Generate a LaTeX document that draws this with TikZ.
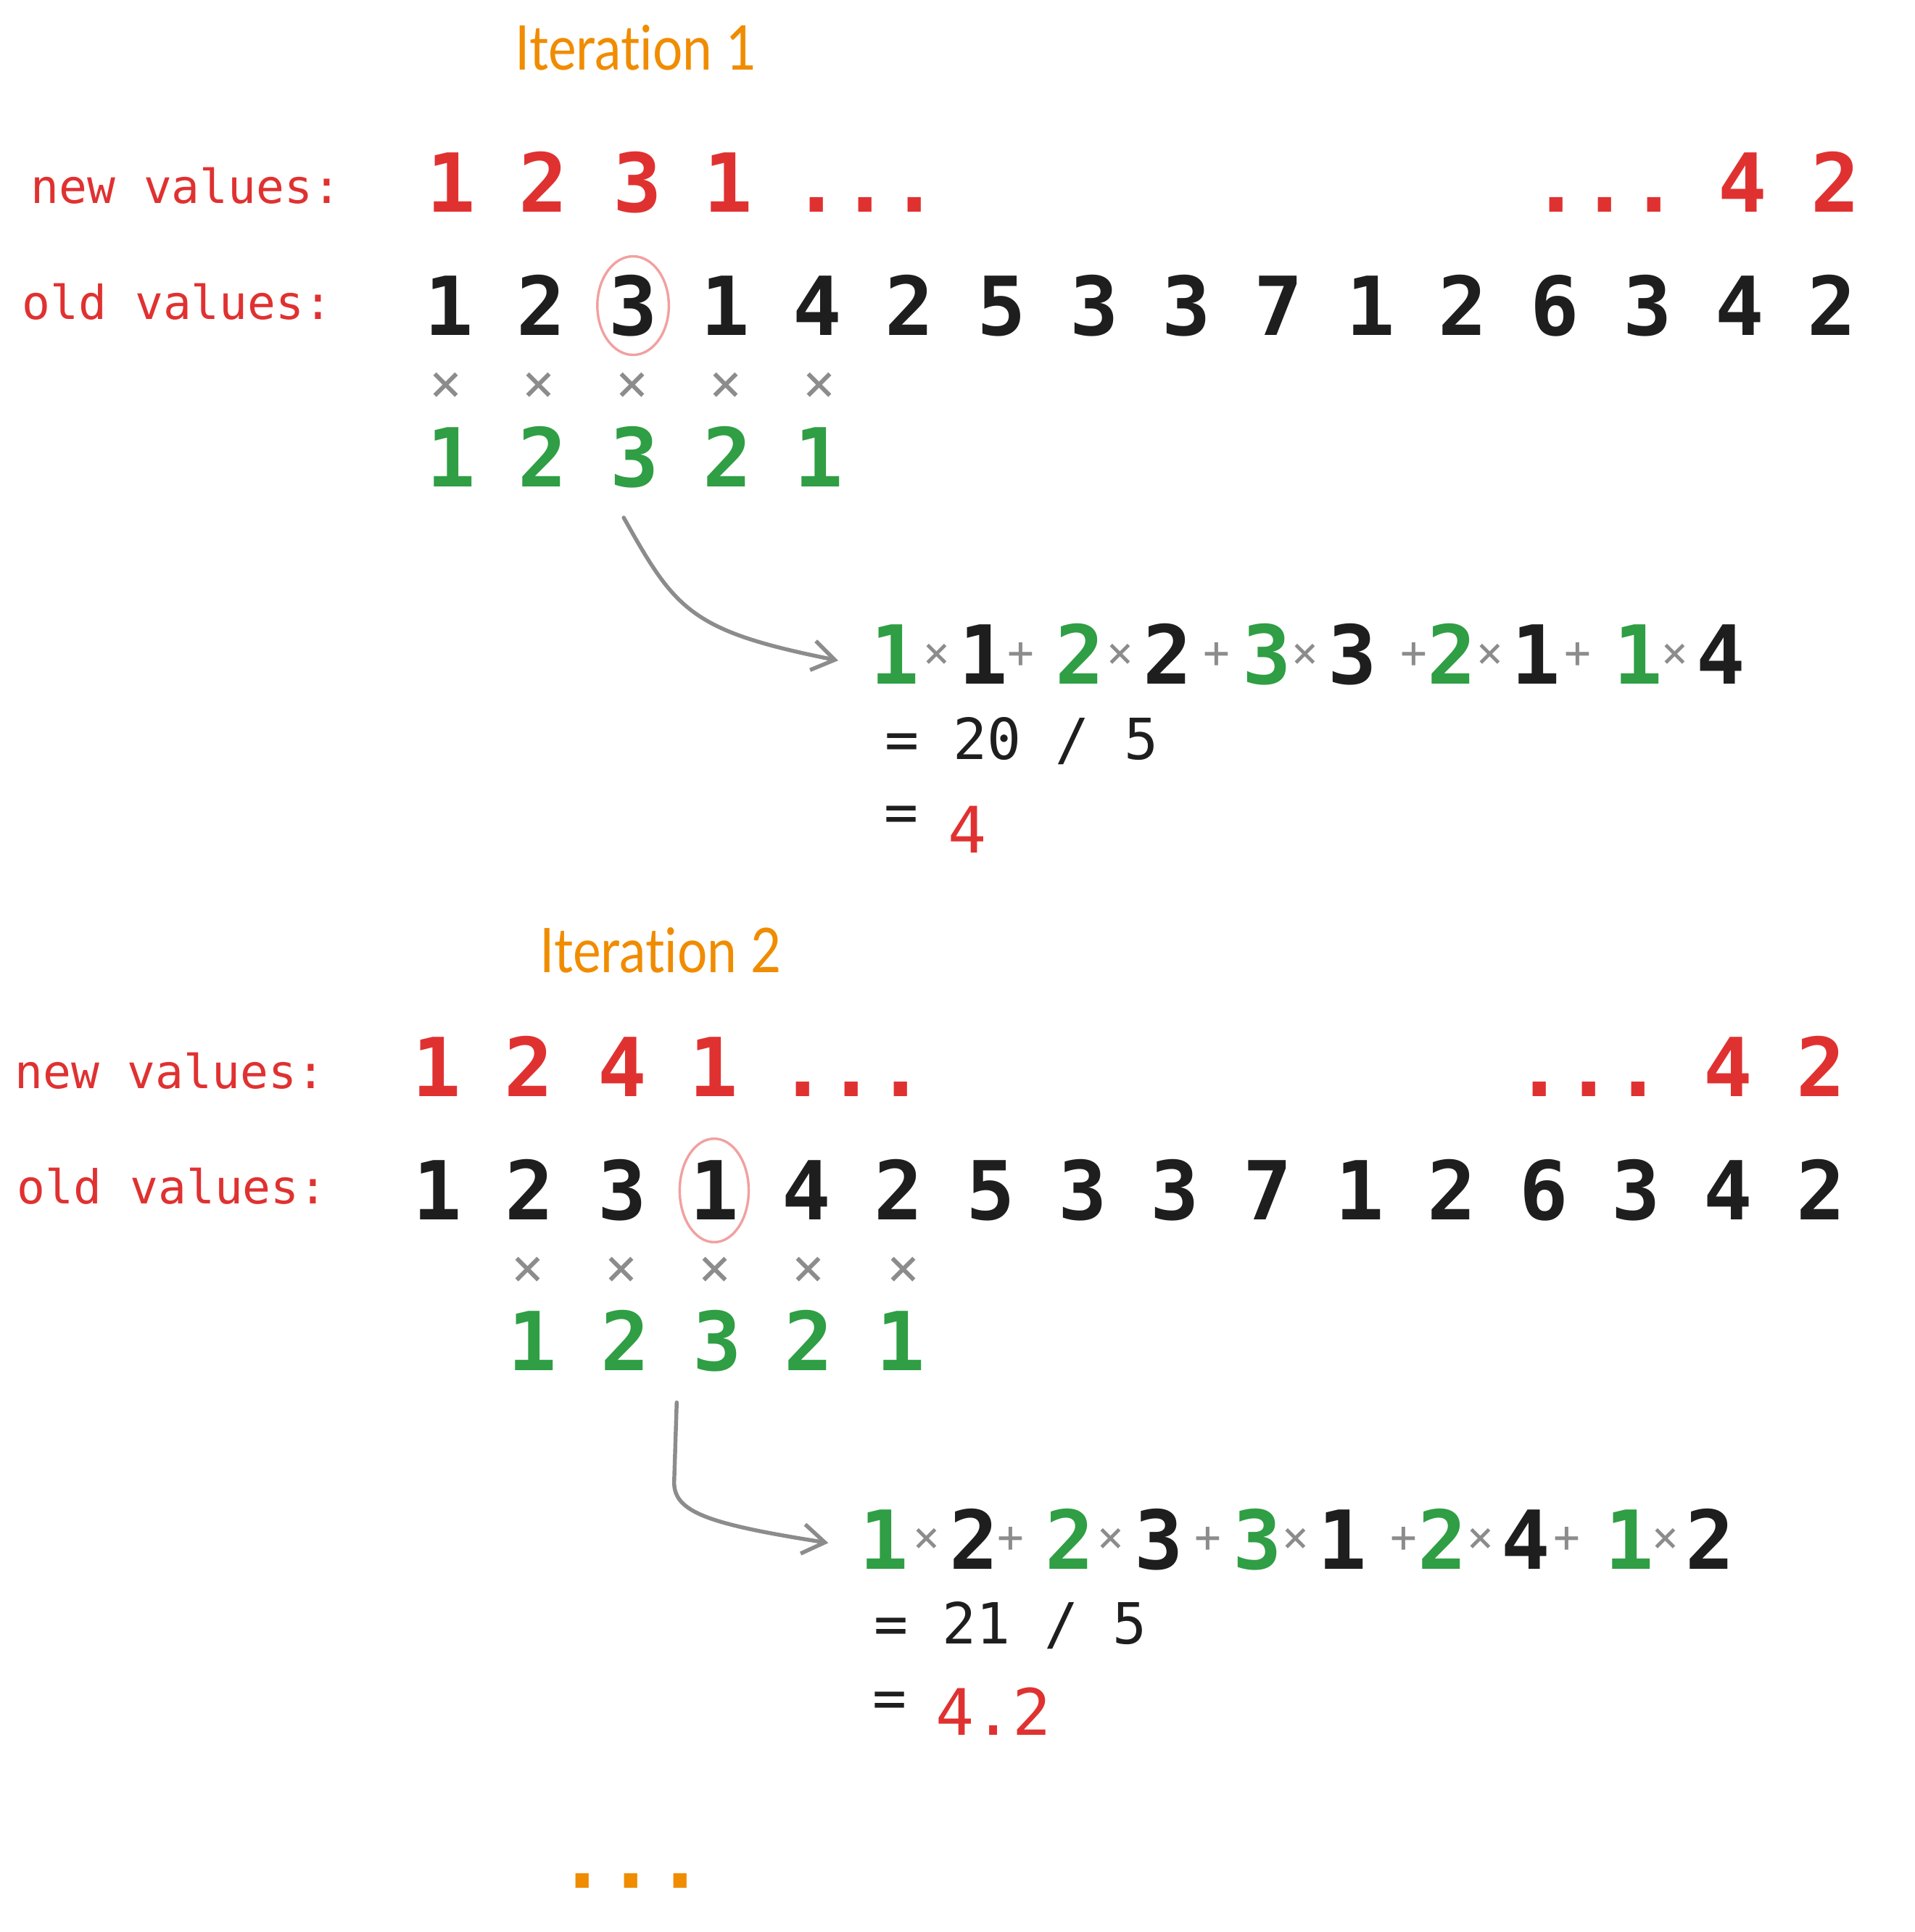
\documentclass[tikz,border=0pt]{standalone}
\usepackage{fontspec}
\setmainfont{DejaVu Sans Mono}
\newfontfamily\monof{DejaVu Sans Mono}
\newfontfamily\monob{DejaVu Sans Mono Bold}
\newfontfamily\headf[Ligatures=NoCommon]{Lato}
\usetikzlibrary{arrows.meta}
\definecolor{cred}{HTML}{E03131}
\definecolor{cgreen}{HTML}{2F9E44}
\definecolor{corange}{HTML}{F08C00}
\definecolor{cblack}{HTML}{1E1E1E}
\definecolor{cgray}{HTML}{8C8C8C}
\definecolor{cpink}{HTML}{F2A0A0}
\newcommand{\headtxt}[1]{\scalebox{0.86}[1]{#1}}
\begin{document}
\begin{tikzpicture}[x=0.5pt,y=-0.5pt,
 every node/.style={inner sep=0pt, outer sep=0pt},
 head/.style={anchor=base west, text=corange, font=\headf\fontsize{25}{25}\selectfont},
 lbl/.style={anchor=base west, text=cred, font=\monof\fontsize{19}{19}\selectfont},
 dig/.style={anchor=base, font=\monob\fontsize{33}{33}\selectfont},
 newd/.style={dig, text=cred},
 oldd/.style={dig, text=cblack},
 kerd/.style={dig, text=cgreen},
 mul/.style={anchor=base, text=cgray, font=\monof\fontsize{22}{22}\selectfont},
 op/.style={anchor=base, text=cgray, font=\monof\fontsize{18}{18}\selectfont},
 res/.style={anchor=base west, text=cblack, font=\monof\fontsize{23}{23}\selectfont},
 eqs/.style={anchor=base, text=cblack, font=\monof\fontsize{23}{23}\selectfont},
 resred/.style={anchor=base, text=cred, font=\monof\fontsize{26}{26}\selectfont},
 sel/.style={draw=cpink, line width=1pt},
 conn/.style={draw=cgray, line width=1.6pt, line cap=round, -{Straight Barb[length=9pt,width=12pt,line width=1.6pt]}}
]
\useasboundingbox (0,0) rectangle (1553,1567.7);

% ---------------- Iteration 1 ----------------
\node[head] (t1) at (418,57) {\headtxt{Iteration 1}};
\node[lbl] (ln1) at (25,165) {new values:};
\node[lbl] (lo1) at (18,259) {old values:};

\foreach \x/\d [count=\i] in {366/1,441/2,517/3,591/1}
  \node[newd] (nA\i) at (\x,172) {\d};
\node[newd] (nAd1) at (702,172) {...};
\node[newd] (nAd2) at (1302,172) {...};
\node[newd] (nA5) at (1414,172) {4};
\node[newd] (nA6) at (1489,172) {2};

\foreach \d [count=\i from 0] in {1,2,3,1,4,2,5,3,3,7,1,2,6,3,4,2}
  \node[oldd] (oA\i) at ({364+74.8*\i},272) {\d};

\foreach \x [count=\i] in {362,437,513,589,665}
  \node[mul] (xA\i) at (\x,326) {×};

\foreach \x/\d [count=\i] in {366/1,440/2,515/3,590/2,664/1}
  \node[kerd] (kA\i) at (\x,395) {\d};

\draw[sel] (oA2.center) ellipse [x radius=29, y radius=40];

% expression 1
\node[kerd] (eA1) at (726,555) {1};
\node[op]   (eA2) at (760,542) {×};
\node[oldd] (eA3) at (798,555) {1};
\node[op]   (eA4) at (828,542) {+};
\node[kerd] (eA5) at (876,555) {2};
\node[op]   (eA6) at (909,542) {×};
\node[oldd] (eA7) at (947,555) {2};
\node[op]   (eA8) at (987,542) {+};
\node[kerd] (eA9) at (1028,555) {3};
\node[op]   (eA10) at (1059,542) {×};
\node[oldd] (eA11) at (1097,555) {3};
\node[op]   (eA12) at (1147,542) {+};
\node[kerd] (eA13) at (1178,555) {2};
\node[op]   (eA14) at (1209,542) {×};
\node[oldd] (eA15) at (1246,555) {1};
\node[op]   (eA16) at (1280,542) {+};
\node[kerd] (eA17) at (1329,555) {1};
\node[op]   (eA18) at (1359,542) {×};
\node[oldd] (eA19) at (1396,555) {4};

\node[res] (rA1) at (718,616) {= 20 / 5};
\node[eqs] (rA2) at (731,675) {=};
\node[resred] (rA3) at (785,692) {4};

\coordinate (aAs) at (506,420);
\coordinate (aAe) at (680,536);
\draw[conn] (aAs) .. controls (548,495) and (560,512) .. (aAe);

% ---------------- Iteration 2 ----------------
\node[head] (t2) at (438,789) {\headtxt{Iteration 2}};
\node[lbl] (ln2) at (12,883) {new values:};
\node[lbl] (lo2) at (14,977) {old values:};

\foreach \x/\d [count=\i] in {354/1,429/2,505/4,579/1}
  \node[newd] (nB\i) at (\x,890) {\d};
\node[newd] (nBd1) at (691,890) {...};
\node[newd] (nBd2) at (1289,890) {...};
\node[newd] (nB5) at (1402,890) {4};
\node[newd] (nB6) at (1477,890) {2};

\foreach \d [count=\i from 0] in {1,2,3,1,4,2,5,3,3,7,1,2,6,3,4,2}
  \node[oldd] (oB\i) at ({355+74.8*\i},990) {\d};

\foreach \x [count=\i] in {428,504,580,656,733}
  \node[mul] (xB\i) at (\x,1044) {×};

\foreach \x/\d [count=\i] in {432/1,507/2,582/3,656/2,731/1}
  \node[kerd] (kB\i) at (\x,1112) {\d};

\draw[sel] (oB3.center) ellipse [x radius=28, y radius=42];

% expression 2
\node[kerd] (eB1) at (717,1273) {1};
\node[op]   (eB2) at (752,1260) {×};
\node[oldd] (eB3) at (790,1273) {2};
\node[op]   (eB4) at (820,1260) {+};
\node[kerd] (eB5) at (868,1273) {2};
\node[op]   (eB6) at (901,1260) {×};
\node[oldd] (eB7) at (940,1273) {3};
\node[op]   (eB8) at (980,1260) {+};
\node[kerd] (eB9) at (1020,1273) {3};
\node[op]   (eB10) at (1051,1260) {×};
\node[oldd] (eB11) at (1089,1273) {1};
\node[op]   (eB12) at (1139,1260) {+};
\node[kerd] (eB13) at (1170,1273) {2};
\node[op]   (eB14) at (1201,1260) {×};
\node[oldd] (eB15) at (1238,1273) {4};
\node[op]   (eB16) at (1271,1260) {+};
\node[kerd] (eB17) at (1322,1273) {1};
\node[op]   (eB18) at (1351,1260) {×};
\node[oldd] (eB19) at (1387,1273) {2};

\node[res] (rB1) at (709,1334) {= 21 / 5};
\node[eqs] (rB2) at (722,1394) {=};
\node[resred] (rB3) at (806,1408) {4.2};

\coordinate (aBs) at (549,1138);
\coordinate (aBm) at (547,1200);
\coordinate (aBe) at (672,1252);
\draw[conn] (aBs) -- (aBm) .. controls (545,1226) and (570,1236) .. (aBe);

% final ellipsis
\node[anchor=base, text=corange, font=\monob\fontsize{33}{33}\selectfont] (more) at (512,1532) {...};
\end{tikzpicture}
\end{document}
